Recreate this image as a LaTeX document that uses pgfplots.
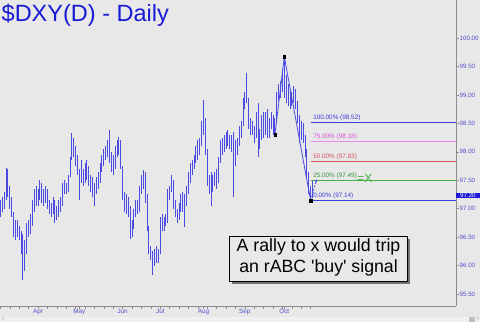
\documentclass[border=0pt]{standalone}
\usepackage{pgfplots}
\pgfplotsset{compat=1.18}
\usepackage{pgfplotstable}
\usepackage{fontspec}
\setmainfont{Liberation Sans}
\newfontfamily\plainsans{Liberation Sans}[Ligatures=TeXOff]

\definecolor{bg}{RGB}{232,232,232}
\definecolor{stripbg}{RGB}{240,240,240}
\definecolor{barblue}{RGB}{75,75,225}
\definecolor{titleblue}{RGB}{25,25,215}
\definecolor{lblblue}{RGB}{80,80,205}
\definecolor{lvlblue}{RGB}{60,60,220}
\definecolor{lvlpink}{RGB}{235,135,230}
\definecolor{txtpink}{RGB}{215,80,215}
\definecolor{lvlred}{RGB}{215,80,95}
\definecolor{lvlgreen}{RGB}{70,175,70}
\definecolor{axisgray}{RGB}{140,140,140}

% daily high-low bars: session index (weekdays from 4 Mar), low, high, gap
\pgfplotstableread[row sep=\\]{
x y\\
0 96.85\\ 0 97.15\\ 0 nan\\
1 96.95\\ 1 97.20\\ 1 nan\\
2 97.00\\ 2 97.30\\ 2 nan\\
3 97.15\\ 3 97.72\\ 3 nan\\
4 97.20\\ 4 97.70\\ 4 nan\\
5 97.00\\ 5 97.40\\ 5 nan\\
6 96.85\\ 6 97.20\\ 6 nan\\
7 96.50\\ 7 96.95\\ 7 nan\\
8 96.45\\ 8 96.80\\ 8 nan\\
9 96.50\\ 9 96.80\\ 9 nan\\
10 96.45\\ 10 96.70\\ 10 nan\\
11 96.20\\ 11 96.60\\ 11 nan\\
12 95.75\\ 12 96.55\\ 12 nan\\
13 95.90\\ 13 96.45\\ 13 nan\\
14 96.20\\ 14 96.75\\ 14 nan\\
15 96.50\\ 15 96.80\\ 15 nan\\
16 96.55\\ 16 96.90\\ 16 nan\\
17 96.70\\ 17 97.15\\ 17 nan\\
18 96.95\\ 18 97.35\\ 18 nan\\
19 97.05\\ 19 97.40\\ 19 nan\\
20 97.05\\ 20 97.35\\ 20 nan\\
21 97.15\\ 21 97.50\\ 21 nan\\
22 97.10\\ 22 97.45\\ 22 nan\\
23 97.05\\ 23 97.35\\ 23 nan\\
24 97.10\\ 24 97.40\\ 24 nan\\
25 97.00\\ 25 97.35\\ 25 nan\\
26 96.90\\ 26 97.15\\ 26 nan\\
27 96.85\\ 27 97.10\\ 27 nan\\
28 96.90\\ 28 97.20\\ 28 nan\\
29 96.75\\ 29 97.15\\ 29 nan\\
30 96.80\\ 30 97.05\\ 30 nan\\
31 96.85\\ 31 97.15\\ 31 nan\\
32 96.95\\ 32 97.20\\ 32 nan\\
33 97.05\\ 33 97.45\\ 33 nan\\
34 97.25\\ 34 97.50\\ 34 nan\\
35 97.25\\ 35 97.45\\ 35 nan\\
36 97.30\\ 36 97.60\\ 36 nan\\
37 97.55\\ 37 97.90\\ 37 nan\\
38 97.85\\ 38 98.33\\ 38 nan\\
39 97.90\\ 39 98.25\\ 39 nan\\
40 97.75\\ 40 98.10\\ 40 nan\\
41 97.60\\ 41 97.95\\ 41 nan\\
42 97.15\\ 42 97.70\\ 42 nan\\
43 97.45\\ 43 97.85\\ 43 nan\\
44 97.40\\ 44 97.70\\ 44 nan\\
45 97.45\\ 45 97.80\\ 45 nan\\
46 97.50\\ 46 97.85\\ 46 nan\\
47 97.40\\ 47 97.75\\ 47 nan\\
48 97.30\\ 48 97.60\\ 48 nan\\
49 97.20\\ 49 97.55\\ 49 nan\\
50 97.05\\ 50 97.45\\ 50 nan\\
51 97.25\\ 51 97.55\\ 51 nan\\
52 97.35\\ 52 97.65\\ 52 nan\\
53 97.45\\ 53 97.80\\ 53 nan\\
54 97.65\\ 54 97.95\\ 54 nan\\
55 97.75\\ 55 98.05\\ 55 nan\\
56 97.85\\ 56 98.10\\ 56 nan\\
57 97.90\\ 57 98.20\\ 57 nan\\
58 97.80\\ 58 98.38\\ 58 nan\\
59 97.65\\ 59 98.00\\ 59 nan\\
60 97.60\\ 60 97.95\\ 60 nan\\
61 97.70\\ 61 98.10\\ 61 nan\\
62 97.90\\ 62 98.20\\ 62 nan\\
63 97.95\\ 63 98.26\\ 63 nan\\
64 97.70\\ 64 98.20\\ 64 nan\\
65 97.15\\ 65 97.75\\ 65 nan\\
66 96.95\\ 66 97.30\\ 66 nan\\
67 96.90\\ 67 97.25\\ 67 nan\\
68 96.85\\ 68 97.20\\ 68 nan\\
69 96.46\\ 69 97.05\\ 69 nan\\
70 96.50\\ 70 96.80\\ 70 nan\\
71 96.65\\ 71 97.00\\ 71 nan\\
72 96.85\\ 72 97.15\\ 72 nan\\
73 96.90\\ 73 97.15\\ 73 nan\\
74 96.95\\ 74 97.40\\ 74 nan\\
75 97.25\\ 75 97.60\\ 75 nan\\
76 97.35\\ 76 97.68\\ 76 nan\\
77 97.10\\ 77 97.65\\ 77 nan\\
78 96.60\\ 78 97.25\\ 78 nan\\
79 96.20\\ 79 96.70\\ 79 nan\\
80 96.10\\ 80 96.35\\ 80 nan\\
81 95.84\\ 81 96.25\\ 81 nan\\
82 96.00\\ 82 96.30\\ 82 nan\\
83 96.05\\ 83 96.35\\ 83 nan\\
84 96.05\\ 84 96.30\\ 84 nan\\
85 96.20\\ 85 96.85\\ 85 nan\\
86 96.60\\ 86 96.90\\ 86 nan\\
87 96.60\\ 87 96.85\\ 87 nan\\
88 96.70\\ 88 96.90\\ 88 nan\\
89 96.75\\ 89 97.35\\ 89 nan\\
90 97.15\\ 90 97.40\\ 90 nan\\
91 97.30\\ 91 97.60\\ 91 nan\\
92 97.00\\ 92 97.50\\ 92 nan\\
93 96.85\\ 93 97.15\\ 93 nan\\
94 96.75\\ 94 97.00\\ 94 nan\\
95 96.80\\ 95 97.10\\ 95 nan\\
96 96.95\\ 96 97.25\\ 96 nan\\
97 96.95\\ 97 97.30\\ 97 nan\\
98 96.68\\ 98 97.25\\ 98 nan\\
99 97.05\\ 99 97.40\\ 99 nan\\
100 97.25\\ 100 97.65\\ 100 nan\\
101 97.45\\ 101 97.80\\ 101 nan\\
102 97.60\\ 102 97.85\\ 102 nan\\
103 97.70\\ 103 97.95\\ 103 nan\\
104 97.80\\ 104 98.10\\ 104 nan\\
105 97.85\\ 105 98.20\\ 105 nan\\
106 97.95\\ 106 98.25\\ 106 nan\\
107 98.10\\ 107 98.55\\ 107 nan\\
108 98.30\\ 108 98.91\\ 108 nan\\
109 97.95\\ 109 98.60\\ 109 nan\\
110 97.40\\ 110 98.05\\ 110 nan\\
111 97.25\\ 111 97.60\\ 111 nan\\
112 97.05\\ 112 97.65\\ 112 nan\\
113 97.30\\ 113 97.60\\ 113 nan\\
114 97.40\\ 114 97.65\\ 114 nan\\
115 97.35\\ 115 97.70\\ 115 nan\\
116 97.45\\ 116 97.90\\ 116 nan\\
117 97.80\\ 117 98.20\\ 117 nan\\
118 97.95\\ 118 98.25\\ 118 nan\\
119 98.00\\ 119 98.30\\ 119 nan\\
120 98.05\\ 120 98.35\\ 120 nan\\
121 98.10\\ 121 98.38\\ 121 nan\\
122 98.05\\ 122 98.30\\ 122 nan\\
123 98.00\\ 123 98.30\\ 123 nan\\
124 97.20\\ 124 98.35\\ 124 nan\\
125 97.75\\ 125 98.20\\ 125 nan\\
126 97.95\\ 126 98.25\\ 126 nan\\
127 98.10\\ 127 98.45\\ 127 nan\\
128 98.25\\ 128 98.55\\ 128 nan\\
129 98.45\\ 129 98.95\\ 129 nan\\
130 98.75\\ 130 99.05\\ 130 nan\\
131 98.85\\ 131 99.38\\ 131 nan\\
132 98.40\\ 132 98.95\\ 132 nan\\
133 98.30\\ 133 98.60\\ 133 nan\\
134 98.30\\ 134 98.55\\ 134 nan\\
135 98.15\\ 135 98.45\\ 135 nan\\
136 98.25\\ 136 98.70\\ 136 nan\\
137 97.90\\ 137 98.85\\ 137 nan\\
138 98.05\\ 138 98.40\\ 138 nan\\
139 98.20\\ 139 98.65\\ 139 nan\\
140 98.25\\ 140 98.70\\ 140 nan\\
141 98.30\\ 141 98.70\\ 141 nan\\
142 98.25\\ 142 98.75\\ 142 nan\\
143 98.25\\ 143 98.60\\ 143 nan\\
144 98.40\\ 144 98.70\\ 144 nan\\
145 98.30\\ 145 98.65\\ 145 nan\\
146 98.30\\ 146 98.60\\ 146 nan\\
147 98.55\\ 147 99.05\\ 147 nan\\
148 98.90\\ 148 99.20\\ 148 nan\\
149 98.95\\ 149 99.25\\ 149 nan\\
150 99.05\\ 150 99.45\\ 150 nan\\
151 98.95\\ 151 99.67\\ 151 nan\\
152 98.85\\ 152 99.35\\ 152 nan\\
153 98.80\\ 153 99.20\\ 153 nan\\
154 98.75\\ 154 99.10\\ 154 nan\\
155 98.80\\ 155 99.05\\ 155 nan\\
156 98.85\\ 156 99.15\\ 156 nan\\
157 98.75\\ 157 99.10\\ 157 nan\\
158 98.50\\ 158 98.90\\ 158 nan\\
159 98.15\\ 159 98.65\\ 159 nan\\
160 98.20\\ 160 98.55\\ 160 nan\\
161 98.15\\ 161 98.50\\ 161 nan\\
162 97.90\\ 162 98.30\\ 162 nan\\
163 97.55\\ 163 98.05\\ 163 nan\\
164 97.25\\ 164 97.65\\ 164 nan\\
165 97.14\\ 165 97.40\\ 165 nan\\
166 97.18\\ 166 97.50\\ 166 nan\\
}\bars

\begin{document}
\begin{tikzpicture}
\useasboundingbox (0,-16bp) rectangle (480bp,306bp);
\fill[bg] (0,-16bp) rectangle (480bp,306bp);
\fill[stripbg] (0,-16bp) rectangle (480bp,-10.5bp);
\node[anchor=west, inner sep=0, font=\fontsize{5}{6}\selectfont, text=gray] at (1.5bp,-13.3bp) {<};
\fill[black!25] (468.5bp,-15.5bp) rectangle (474.5bp,-11bp);
\node[anchor=west, inner sep=0, font=\fontsize{5}{6}\selectfont, text=gray] at (476.5bp,-13.3bp) {>};
\begin{axis}[
  at={(0,0)}, anchor=south west,
  scale only axis, width=456bp, height=306bp,
  xmin=-0.2, xmax=242.3, ymin=95.29, ymax=100.668,
  axis x line*=bottom, axis y line*=right,
  axis line style={draw=axisgray, line width=0.6bp},
  every tick/.style={draw=axisgray, line width=0.5bp},
  tick align=outside,
  major tick length=3bp, minor tick length=2.5bp,
  xtick={20,42,65,85,108,130,151},
  xticklabels={Apr,May,Jun,Jul,Aug,Sep,Oct},
  minor xtick={0,5,...,165},
  xticklabel style={font=\fontsize{6.3}{7}\selectfont, text=lblblue, inner sep=0.5bp, yshift=0.5bp},
  ytick={95.5,96,96.5,97,97.5,98,98.5,99,99.5,100},
  yticklabel style={font=\fontsize{6.2}{7}\selectfont, text=lblblue, inner sep=0.5bp,
    /pgf/number format/fixed, /pgf/number format/fixed zerofill,
    /pgf/number format/precision=2, /pgf/number format/assume math mode=true},
  clip=false,
]
% high-low range of each session
\addplot[draw=barblue, line width=0.9bp, mark=none, unbounded coords=jump]
  table[x=x, y=y] {\bars};

% retracement levels
\addplot[lvlblue, line width=0.8bp] coordinates {(165,98.52) (242.3,98.52)};
\addplot[lvlpink, line width=1.8bp] coordinates {(165,98.18) (242.3,98.18)};
\addplot[lvlred, line width=0.8bp] coordinates {(165,97.83) (242.3,97.83)};
\addplot[lvlgreen, line width=0.8bp] coordinates {(165,97.49) (242.3,97.49)};
\addplot[lvlblue, line width=0.8bp] coordinates {(165,97.14) (242.3,97.14)};

% rABC swing
\addplot[barblue, line width=0.8bp] coordinates {(146,98.30) (151,99.67) (165,97.14)};
\addplot[barblue, line width=0.8bp, dashed, dash pattern=on 2bp off 1.5bp] coordinates {(165,97.14) (168,97.49)};
\addplot[only marks, mark=square*, mark size=1.2bp, black] coordinates {(146,98.30) (151,99.67) (165,97.14)};
\addplot[only marks, mark=*, mark size=1bp, barblue] coordinates {(168,97.49)};

\begin{scope}[every node/.style={anchor=south west, inner sep=0, yshift=1.6bp, font=\fontsize{6.4}{7}\selectfont}]
\node[text=lvlblue] at (axis cs:166.3,98.52) {100.00\% (98.52)};
\node[text=txtpink] at (axis cs:166.3,98.18) {75.00\% (98.18)};
\node[text=lvlred] at (axis cs:166.3,97.83) {50.00\% (97.83)};
\node[text=lvlgreen!85!black] at (axis cs:166.3,97.49) {25.00\% (97.49)};
\node[text=lvlblue] at (axis cs:166.3,97.14) {0.00\% (97.14)};
\end{scope}
\node[anchor=base west, inner sep=0, text=lvlgreen, font=\fontsize{12}{14}\selectfont] at (axis cs:189.7,97.46) {=X};

% last price flag
\node[anchor=west, fill=titleblue, text=white, inner xsep=1.5bp, inner ysep=0.6bp,
  minimum width=23.5bp, font=\fontsize{6.2}{7}\selectfont] at (axis cs:242.3,97.23) {97.20};

% comment box
\fill[black!55] (axis cs:123.2,96.47) rectangle (axis cs:217.9,95.68);
\filldraw[fill=bg, draw=black, line width=0.9bp] (axis cs:121.6,96.52) rectangle (axis cs:216.3,95.73);
\node[align=center, inner sep=0, font=\plainsans\fontsize{17.8}{21}\selectfont, text=black] at (axis cs:169.2,96.15)
  {A rally to x would trip\\an rABC 'buy' signal};
\end{axis}
\node[anchor=base west, inner sep=0, text=titleblue, font=\fontsize{23.6}{27}\selectfont] at (1.5bp,284bp) {\$DXY(D) - Daily};
\end{tikzpicture}
\end{document}
